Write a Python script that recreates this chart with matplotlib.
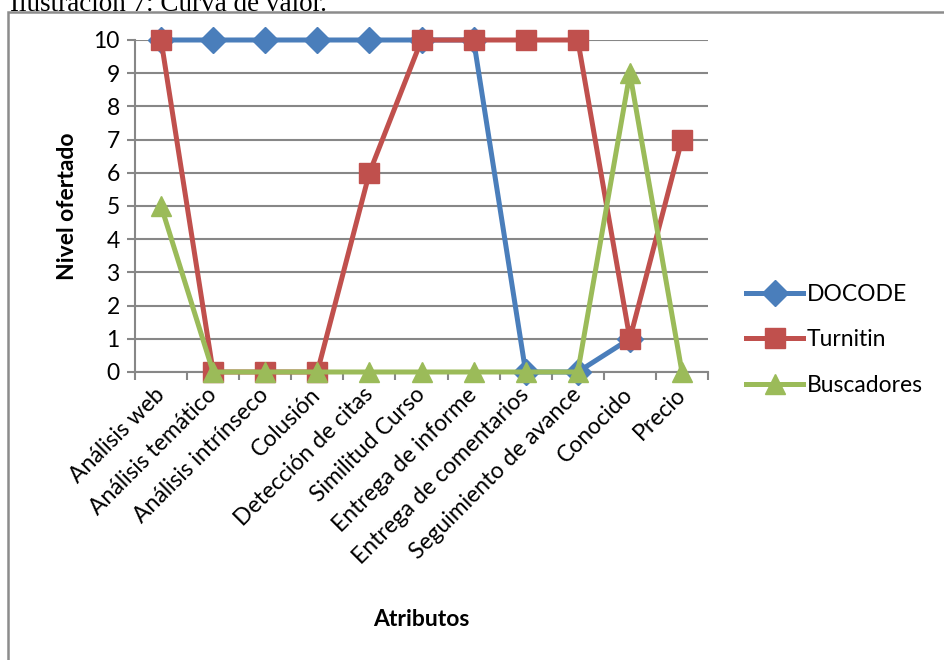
import numpy as np
import matplotlib
matplotlib.use("Agg")
import matplotlib.pyplot as plt
from matplotlib.patches import Rectangle
from matplotlib.ticker import FixedLocator, NullFormatter

categories = ["Análisis web", "Análisis temático", "Análisis intrínseco", "Colusión",
              "Detección de citas", "Similitud Curso", "Entrega de informe",
              "Entrega de comentarios", "Seguimiento de avance", "Conocido", "Precio"]
docode = [10, 10, 10, 10, 10, 10, 10, 0, 0, 1, np.nan]
turnitin = [10, 0, 0, 0, 6, 10, 10, 10, 10, 1, 7]
buscadores = [5, 0, 0, 0, 0, 0, 0, 0, 0, 9, 0]
series_names = ["DOCODE", "Turnitin", "Buscadores"]
yticks = list(range(0, 11))

FONT = ["Lato", "DejaVu Sans"]
plt.rcParams['font.family'] = FONT
FS = 16.5

W, H = 944, 660
fig = plt.figure(figsize=(W / 100, H / 100), dpi=100)

# outer frame
fig.patches.append(Rectangle((8 / W, -0.1), 1.2, 1 - 12 / H + 0.1, transform=fig.transFigure,
                             fill=False, edgecolor="#8c8c8c", linewidth=1.8))
fig.text(10 / W, 1 - 11 / H, "Ilustración 7: Curva de valor.", fontsize=19.5,
         family=["Liberation Serif"], ha="left", va="baseline")

ax = fig.add_axes([135 / W, 1 - 372 / H, (708 - 135) / W, (372 - 40) / H])
x = np.arange(len(categories))

ax.plot(x, docode, color="#4A7EBB", lw=3.6, marker="D", ms=13, label=series_names[0], zorder=3, clip_on=False)
ax.plot(x, turnitin, color="#C0504D", lw=3.6, marker="s", ms=14, label=series_names[1], zorder=4, clip_on=False)
ax.plot(x, buscadores, color="#9BBB59", lw=3.6, marker="^", ms=15, label=series_names[2], zorder=5, clip_on=False)

ax.set_xlim(-0.5, len(categories) - 0.5)
ax.set_ylim(0, 10)
ax.set_yticks(yticks)
ax.yaxis.grid(True, color="#878787", lw=1.5)
ax.set_axisbelow(True)
for s in ["top", "right"]:
    ax.spines[s].set_visible(False)
for s in ["left", "bottom"]:
    ax.spines[s].set_color("#878787")
    ax.spines[s].set_linewidth(1.5)
ax.tick_params(axis="y", length=6, width=1.5, color="#878787", labelsize=FS, pad=5)

ax.set_xticks(x)
ax.set_xticklabels(categories, rotation=45, ha="right", va="center", rotation_mode="anchor", fontsize=FS)
ax.tick_params(axis="x", which="major", length=0, pad=14)
ax.xaxis.set_minor_locator(FixedLocator(np.arange(-0.5, len(categories), 1.0)))
ax.xaxis.set_minor_formatter(NullFormatter())
ax.tick_params(axis="x", which="minor", length=6, width=1.5, color="#878787")

ax.set_ylabel("Nivel ofertado", fontsize=FS, fontweight="bold", labelpad=11)
fig.text((135 + 708) / 2 / W, 1 - 620 / H, "Atributos", fontsize=FS, fontweight="bold",
         ha="center", va="center")

leg = fig.legend(loc="center left", bbox_to_anchor=(746 / W, 1 - 340 / H), frameon=False,
                 fontsize=FS, handlelength=2.5, handletextpad=0.15, labelspacing=1.05,
                 borderpad=0, borderaxespad=0)

fig.savefig("out.png", dpi=100)
